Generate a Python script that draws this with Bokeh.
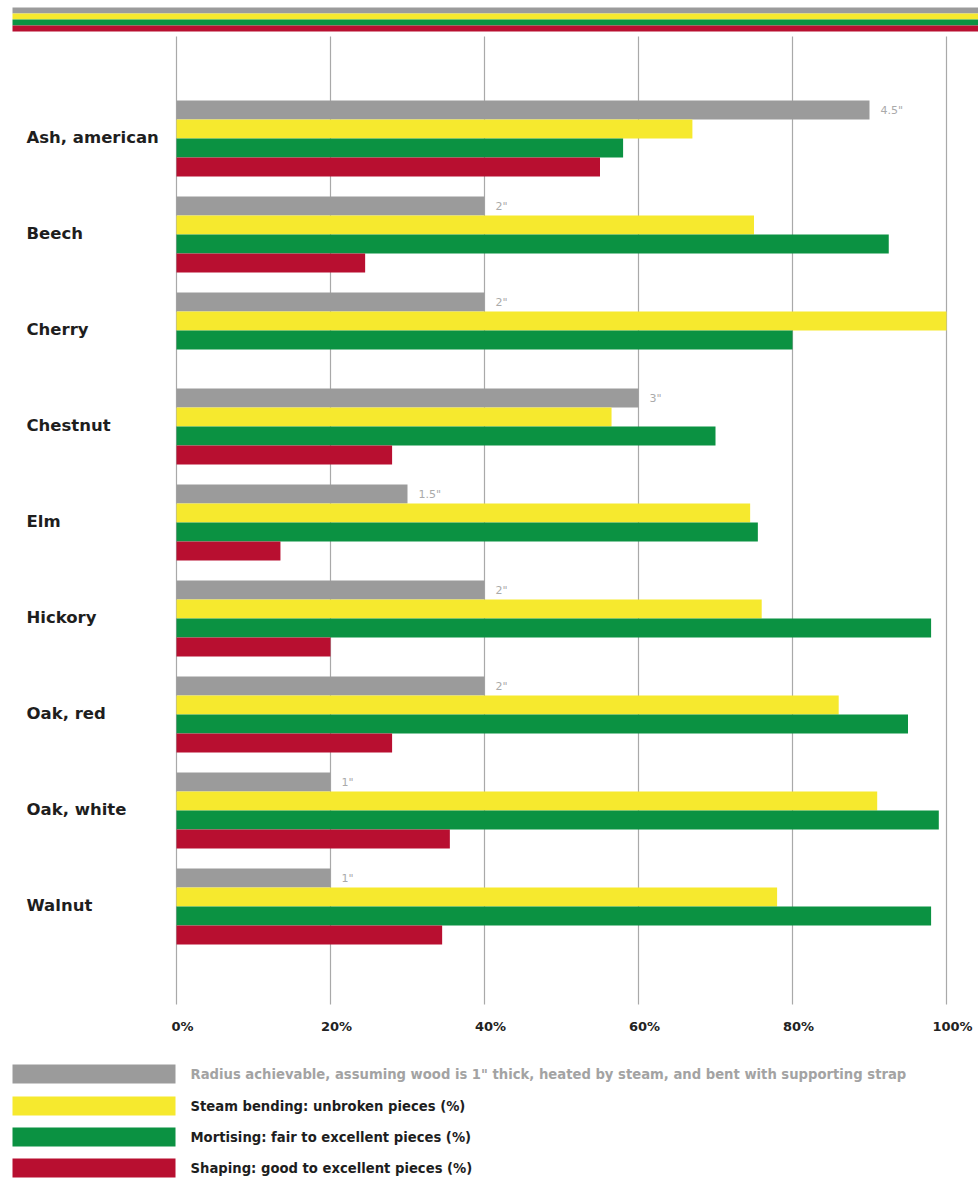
from bokeh.plotting import figure
from bokeh.models import Range1d
from bokeh.core.properties import value
from bokeh.embed import file_html
from bokeh.resources import INLINE

# ---- data -------------------------------------------------------------
species = ["Ash, american", "Beech", "Cherry", "Chestnut", "Elm",
           "Hickory", "Oak, red", "Oak, white", "Walnut"]
radius_in = [4.5, 2, 2, 3, 1.5, 2, 2, 1, 1]          # bend radius, inches
steam_bending = [67, 75, 100, 56.5, 74.5, 76, 86, 91, 78]
mortising = [58, 92.5, 80, 70, 75.5, 98, 95, 99, 98]
shaping = [55, 24.5, float("nan"), 28, 13.5, 20, 28, 35.5, 34.5]
tick_values = [0, 20, 40, 60, 80, 100]
tick_labels = ["0%", "20%", "40%", "60%", "80%", "100%"]
legend_labels = [
    "Radius achievable, assuming wood is 1\" thick, heated by steam, and bent with supporting strap",
    "Steam bending: unbroken pieces (%)",
    "Mortising: fair to excellent pieces (%)",
    "Shaping: good to excellent pieces (%)",
]
PCT_PER_INCH = 20  # radius bars share the percent axis: 1" = 20%

# ---- layout -----------------------------------------------------------
W, H = 978, 1178
X0, PX_PER_PCT = 176, 7.7         # where 0% sits, pixels per percent
GROUP_TOP, GROUP_STEP, BAR_H = 100, 96, 19

GRAY, YELLOW, GREEN, RED = "#9b9b9b", "#f6e92e", "#0b9242", "#b80f30"
FONT = value("DejaVu Sans")


def px(x):
    """pixel column -> percent units"""
    return (x - X0) / PX_PER_PCT


p = figure(width=W, height=H, min_border=0,
           x_range=Range1d(px(0), px(W)), y_range=Range1d(H, 0),
           x_axis_type=None, y_axis_type=None,
           output_backend="svg", toolbar_location=None)
p.grid.visible = False
p.outline_line_color = None
p.background_fill_color = "white"
p.border_fill_color = "white"

# header stripes
stripe_cols = [GRAY, YELLOW, GREEN, RED]
p.quad(left=[px(12)] * 4, right=[px(W)] * 4,
       top=[7, 13, 19, 25], bottom=[13, 19, 25, 31],
       fill_color=stripe_cols, line_color=None)

# vertical gridlines
p.segment(x0=tick_values, x1=tick_values, y0=[36] * 6, y1=[1004] * 6,
          line_color="#a9a9a9", line_width=1.2)
p.text(x=tick_values, y=[1026] * 6, text=tick_labels, x_offset=6,
       text_align="center", text_baseline="middle",
       text_font=FONT, text_font_style="bold", text_font_size="13px",
       text_color="#222222")

# bars
n = len(species)
centers = [GROUP_TOP + GROUP_STEP * i for i in range(n)]
radius_pct = [r * PCT_PER_INCH for r in radius_in]
series = [(radius_pct, GRAY), (steam_bending, YELLOW),
          (mortising, GREEN), (shaping, RED)]
for k, (vals, col) in enumerate(series):
    ys = [c + BAR_H * k + BAR_H / 2 for c in centers]
    keep = [i for i, v in enumerate(vals) if v == v]
    p.hbar(y=[ys[i] for i in keep], right=[vals[i] for i in keep],
           left=0, height=BAR_H, fill_color=col, line_color=None)

# radius labels at the end of the grey bars
p.text(x=radius_pct, y=[c + BAR_H / 2 for c in centers],
       text=[f'{r:g}"' for r in radius_in], x_offset=11,
       text_baseline="middle", text_font=FONT, text_font_size="11px",
       text_color="#aaaaaa")

# species labels
p.text(x=[px(26)] * n, y=[c + 2 * BAR_H - 1 for c in centers], text=species,
       text_baseline="middle", text_font=FONT, text_font_style="bold",
       text_font_size="16.5px", text_color="#1e1e1e")

# legend
leg_y = [1073.5, 1105.5, 1136.5, 1167.5]
p.quad(left=[px(12)] * 4, right=[px(175)] * 4,
       top=[y - 9.5 for y in leg_y], bottom=[y + 9.5 for y in leg_y],
       fill_color=stripe_cols, line_color=None)
p.text(x=[px(190)] * 4, y=leg_y, text=legend_labels,
       text_baseline="middle", text_font=FONT, text_font_style="bold",
       text_font_size="13.2px",
       text_color=["#a3a3a3", "#1e1e1e", "#1e1e1e", "#1e1e1e"])

open("out.html", "w").write(file_html(p, INLINE))
